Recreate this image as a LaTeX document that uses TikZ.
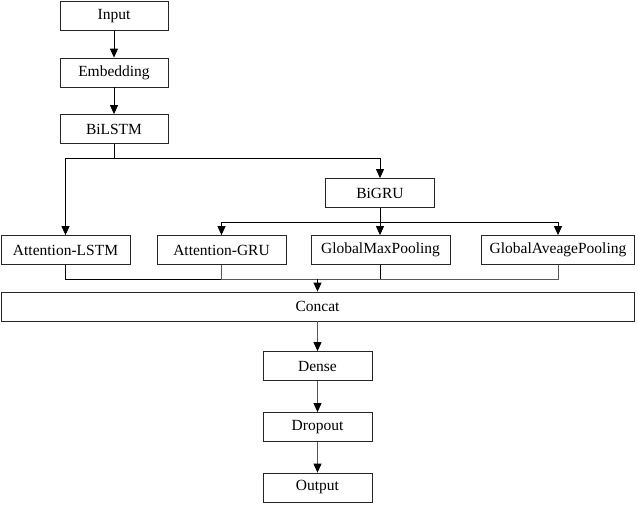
\documentclass[tikz,border=0pt]{standalone}
\usepackage{fontspec}
\setmainfont{Liberation Serif}
\usetikzlibrary{arrows.meta}
\begin{document}
\begin{tikzpicture}[x=1pt,y=-1pt,
  box/.style={draw=black!85,line width=0.8pt,rectangle,inner sep=0pt,minimum height=29pt,font=\fontsize{15.5}{18}\selectfont},
  conn/.style={line width=0.8pt,draw=black},
  gconn/.style={line width=0.9pt,draw=black!65},
  arr/.style={-{Triangle[width=8pt,length=9pt,color=black]}}]
\useasboundingbox (0,0) rectangle (638,504);
\node[box,minimum width=108pt] (input) at (114,16) {Input};
\node[box,minimum width=108pt] (emb) at (114,72.5) {Embedding};
\node[box,minimum width=108pt] (bilstm) at (114,129) {BiLSTM};
\node[box,minimum width=109pt] (bigru) at (380,193) {BiGRU};
\node[box,minimum width=129pt] (alstm) at (65.5,250) {Attention-LSTM};
\node[box,minimum width=129pt] (agru) at (221.5,250) {Attention-GRU};
\node[box,minimum width=139pt] (gmp) at (380.5,250) {GlobalMaxPooling};
\node[box,minimum width=153pt] (gap) at (558,250) {GlobalAveagePooling};
\node[box,minimum width=633pt] (concat) at (317.5,306.5) {Concat};
\node[box,minimum width=109pt] (dense) at (317.5,366) {Dense};
\node[box,minimum width=109pt] (drop) at (317.5,427) {Dropout};
\node[box,minimum width=109pt] (out) at (317.5,487.5) {Output};
\draw[conn,arr] (input) -- (emb);
\draw[conn,arr] (emb) -- (bilstm);
\coordinate (split) at (114,158);
\draw[conn] (bilstm.south) -- (split);
\draw[conn,arr] (split) -| (alstm.north);
\draw[conn,arr] (split) -| (bigru.north);
\coordinate (split2) at (380,222);
\draw[conn] (bigru.south) -- (split2);
\draw[conn,arr] (split2) -| (agru.north);
\draw[conn,arr] (split2) -- (split2 |- gmp.north);
\draw[conn,arr] (split2) -| (gap.north);
\coordinate (merge) at (317.5,279);
\draw[conn] (alstm.south) |- (merge);
\draw[gconn] (agru.south) |- (merge);
\draw[conn] (gmp.south) |- (merge);
\draw[gconn] (gap.south) |- (merge);
\draw[conn,arr] (merge) -- (concat.north);
\draw[gconn,arr] (concat.south) -- (dense.north);
\draw[gconn,arr] (dense) -- (drop);
\draw[gconn,arr] (drop) -- (out);
\end{tikzpicture}
\end{document}
